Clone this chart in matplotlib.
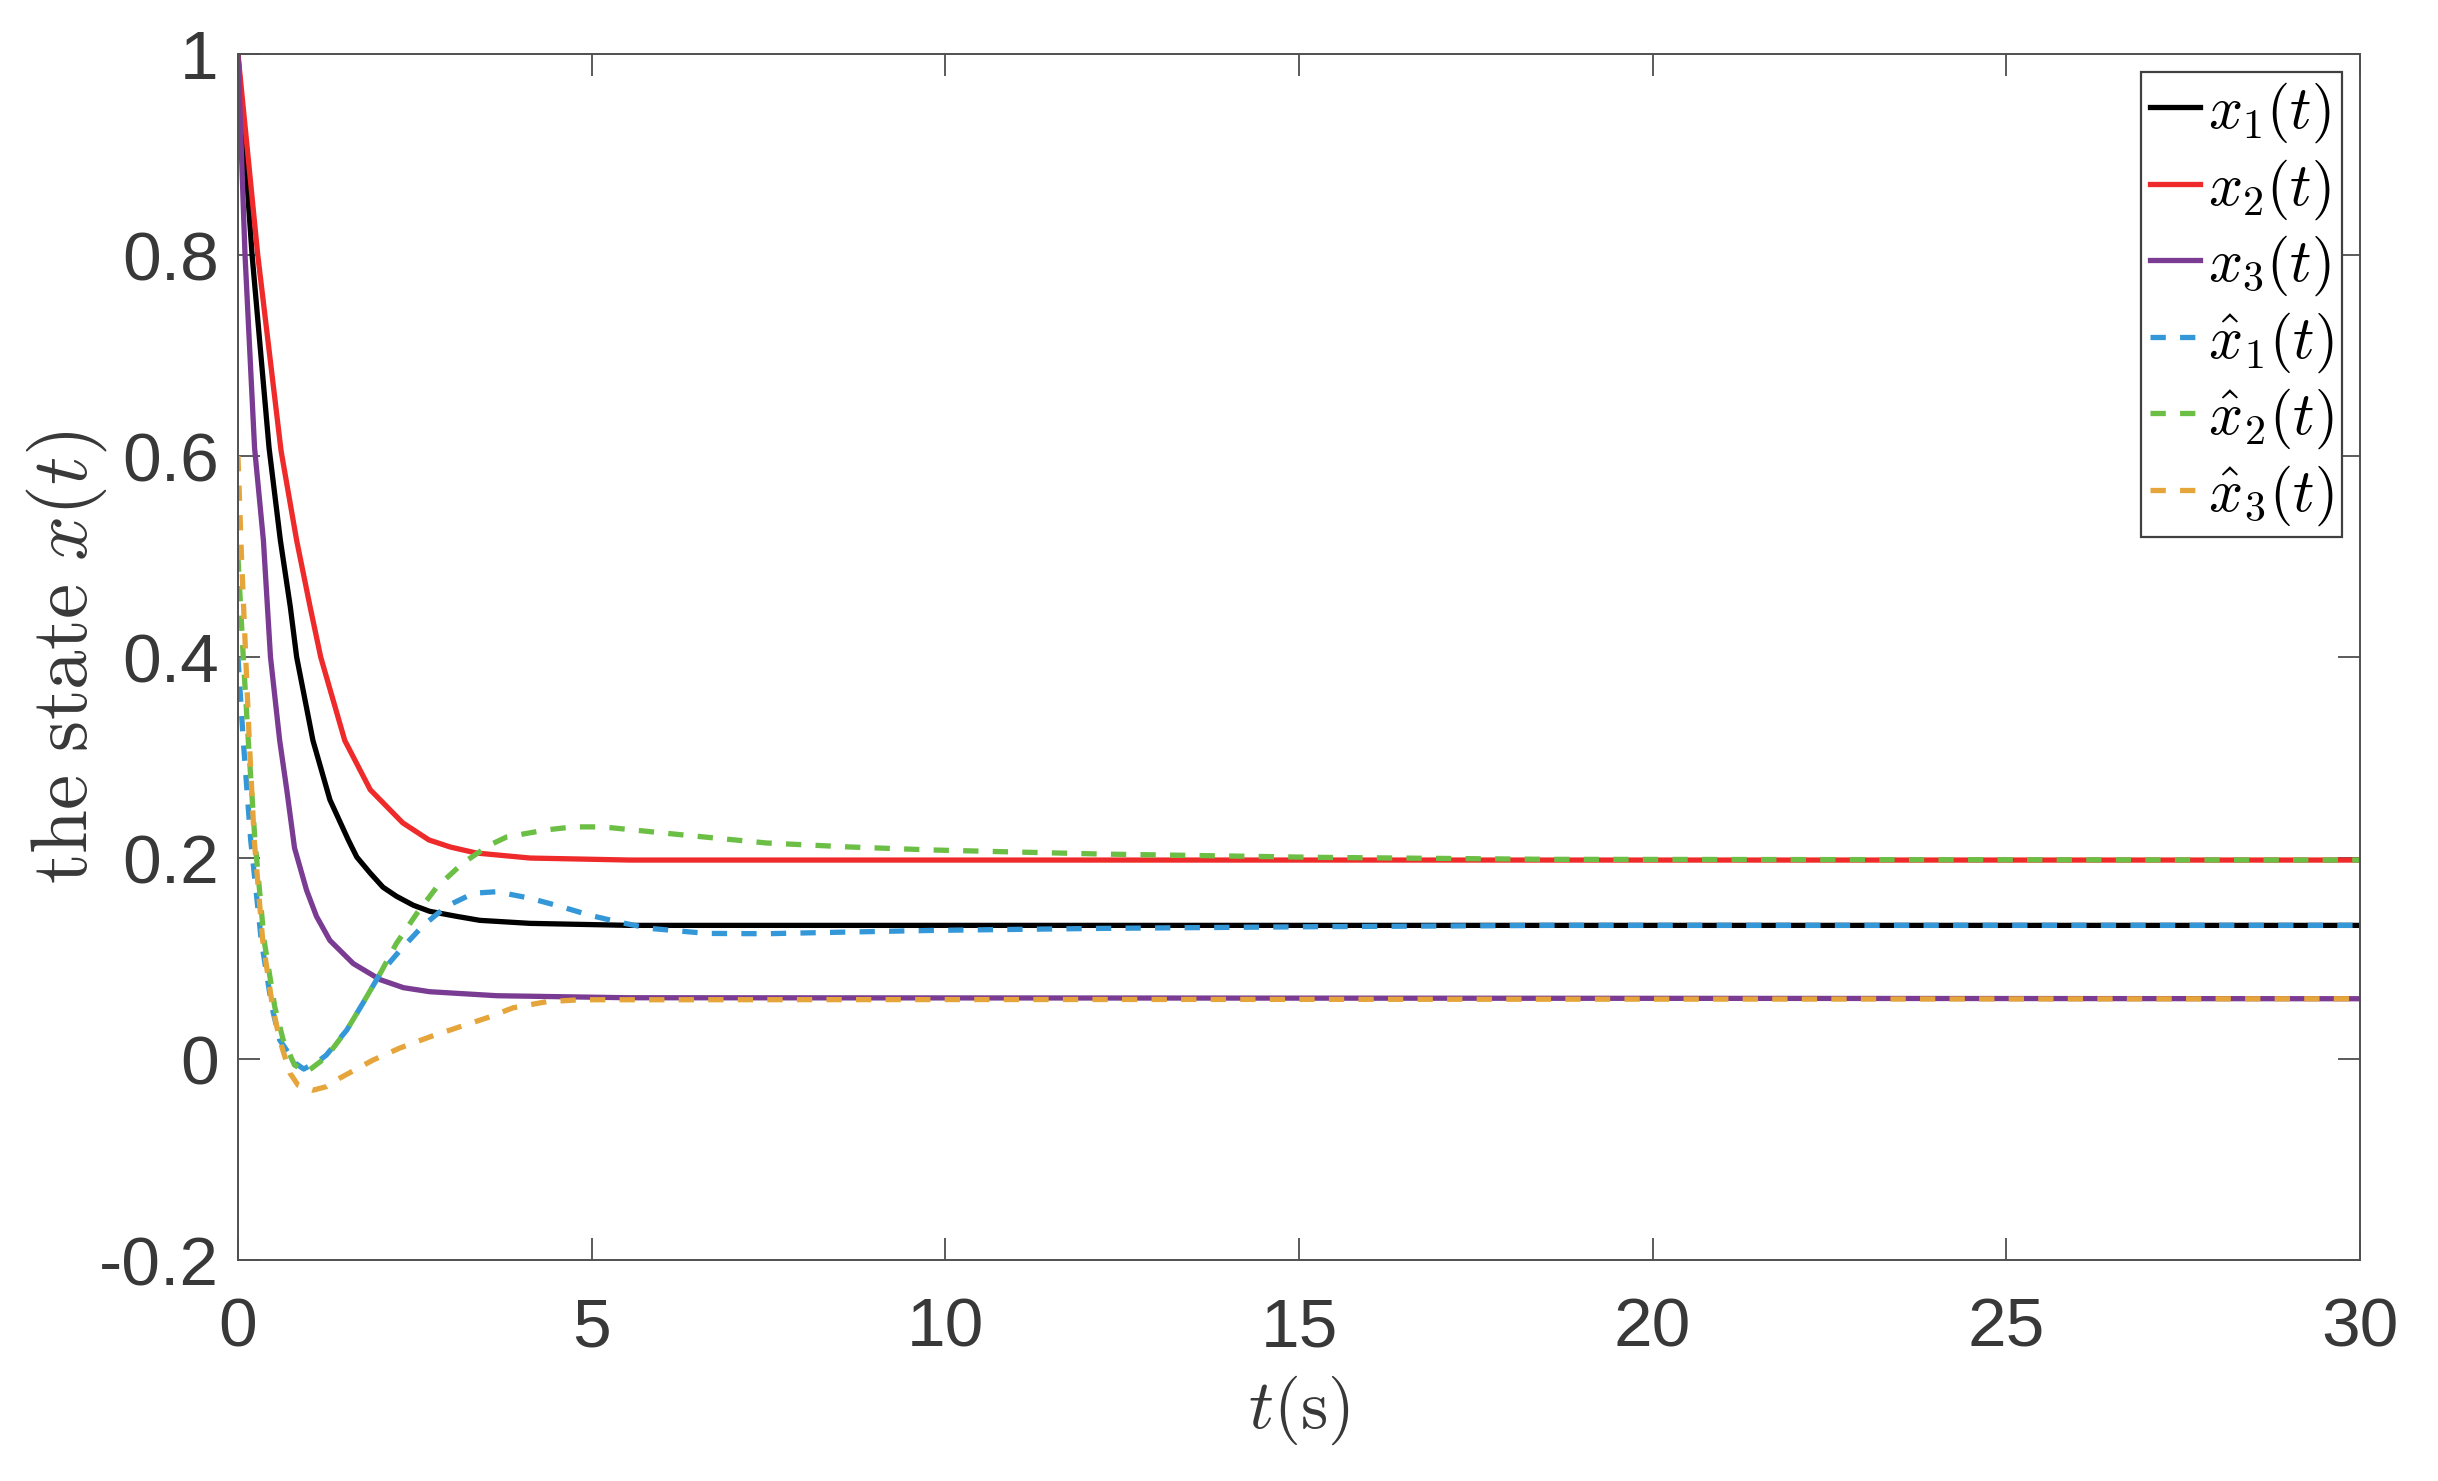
import numpy as np
import matplotlib
matplotlib.use("Agg")
import matplotlib.pyplot as plt

# values
t_x1 = [0, 0.2, 0.44, 0.6, 0.74, 0.83, 1.06, 1.3, 1.56, 1.68, 1.87, 2.05, 2.24, 2.48,
        2.71, 3.09, 3.42, 4.13, 5.54, 10, 30]
x1 = [1.0, 0.8, 0.608, 0.516, 0.45, 0.4, 0.317, 0.258, 0.218, 0.201, 0.185, 0.171, 0.162,
      0.153, 0.147, 0.142, 0.138, 0.135, 0.133, 0.133, 0.133]

t_x2 = [0, 0.28, 0.61, 0.83, 1.02, 1.17, 1.51, 1.87, 2.33, 2.7, 3.0, 3.37, 4.13, 5.54, 10, 30]
x2 = [1.0, 0.8, 0.605, 0.516, 0.45, 0.4, 0.317, 0.268, 0.235, 0.218, 0.211, 0.205, 0.2,
      0.198, 0.198, 0.198]

t_x3 = [0, 0.1, 0.235, 0.36, 0.46, 0.59, 0.69, 0.8, 0.97, 1.11, 1.3, 1.63, 2.01, 2.34,
        2.71, 3.66, 5.5, 30]
x3 = [1.0, 0.8, 0.608, 0.516, 0.4, 0.317, 0.268, 0.21, 0.168, 0.142, 0.118, 0.095, 0.079,
      0.071, 0.067, 0.063, 0.061, 0.060]

t_xh1 = [0, 0.075, 0.18, 0.33, 0.48, 0.59, 0.81, 0.93, 1.16, 1.25, 1.54, 1.77, 2.01, 2.29,
         2.62, 2.95, 3.33, 3.66, 4.13, 4.55, 4.98, 5.4, 5.82, 6.63, 7.47, 8.65, 9.83, 11.0,
         12.2, 15.25, 18.55, 30]
xh1 = [0.4, 0.317, 0.218, 0.118, 0.052, 0.019, -0.004, -0.01, -0.001, 0.004, 0.029, 0.056,
       0.085, 0.108, 0.133, 0.152, 0.165, 0.1665, 0.160, 0.152, 0.143, 0.136, 0.130, 0.125,
       0.1247, 0.1264, 0.128, 0.129, 0.130, 0.1317, 0.133, 0.133]

t_xh2 = [0, 0.075, 0.146, 0.24, 0.37, 0.52, 0.64, 0.8, 0.97, 1.25, 1.54, 1.77, 2.01, 2.24,
         2.53, 2.81, 3.18, 3.56, 3.8, 4.36, 4.74, 5.12, 5.3, 6.29, 7.47, 8.65, 9.83, 11.0,
         12.19, 15.25, 18.55, 30]
xh2 = [0.5, 0.4, 0.317, 0.218, 0.118, 0.052, 0.019, -0.006, -0.013, 0.002, 0.029, 0.056,
       0.085, 0.115, 0.145, 0.171, 0.195, 0.213, 0.221, 0.228, 0.231, 0.231, 0.23, 0.223,
       0.215, 0.211, 0.208, 0.206, 0.204, 0.2007, 0.1987, 0.198]

t_xh3 = [0, 0.05, 0.11, 0.16, 0.23, 0.35, 0.49, 0.59, 0.735, 0.85, 1.06, 1.25, 1.44, 1.91,
         2.29, 2.71, 3.09, 3.52, 3.89, 4.36, 4.84, 6, 30]
xh3 = [0.6, 0.5, 0.4, 0.317, 0.218, 0.118, 0.052, 0.019, -0.014, -0.026, -0.031, -0.0275,
       -0.019, -0.001, 0.011, 0.022, 0.031, 0.041, 0.051, 0.057, 0.059, 0.059, 0.060]

labels = [r"$x_1(t)$", r"$x_2(t)$", r"$x_3(t)$",
          r"$\hat{x}_1(t)$", r"$\hat{x}_2(t)$", r"$\hat{x}_3(t)$"]
colors = ["#000000", "#ee2a2a", "#7a3b92", "#3498d8", "#6cbf45", "#e5a53b"]

plt.rcParams["mathtext.fontset"] = "cm"
plt.rcParams["font.family"] = ["Liberation Sans", "DejaVu Sans"]

fig = plt.figure(figsize=(12.19, 7.405), dpi=200)
ax = fig.add_axes([0.0976, 0.1492, 0.8704, 0.8143])

lw = 1.9
dash = (2.9, 2.7)
ax.plot(t_x1, x1, color=colors[0], lw=lw, label=labels[0])
ax.plot(t_x2, x2, color=colors[1], lw=lw, label=labels[1])
ax.plot(t_x3, x3, color=colors[2], lw=lw, label=labels[2])
ax.plot(t_xh1, xh1, color=colors[3], lw=lw, dashes=dash, label=labels[3])
ax.plot(t_xh2, xh2, color=colors[4], lw=lw, dashes=dash, label=labels[4])
ax.plot(t_xh3, xh3, color=colors[5], lw=lw, dashes=dash, label=labels[5])

ax.set_xlim(0, 30)
ax.set_ylim(-0.2, 1)
ax.set_xticks([0, 5, 10, 15, 20, 25, 30])
ax.set_yticks([-0.2, 0, 0.2, 0.4, 0.6, 0.8, 1])
ax.set_yticklabels(["-0.2", "0", "0.2", "0.4", "0.6", "0.8", "1"])
ax.tick_params(direction="in", length=8, width=0.6, color="#404040",
               labelsize=25, labelcolor="#383838", top=True, right=True)
ax.tick_params(axis="x", pad=13)
ax.tick_params(axis="y", pad=7)
for s in ax.spines.values():
    s.set_color("#505050")
    s.set_linewidth(0.7)

ax.set_xlabel(r"$t(\mathrm{s})$", fontsize=25, color="#383838", labelpad=5)
ax.set_ylabel(r"$\mathrm{the\ state}\ x(t)$", fontsize=28.5, color="#383838")
ax.yaxis.set_label_coords(-0.061, 0.5)

leg = ax.legend(loc="upper right", fontsize=21.5, handlelength=0.85, handletextpad=0.12,
                labelspacing=0.2, borderpad=0.15, borderaxespad=0.3,
                fancybox=False, framealpha=1, edgecolor="#404040")
leg.get_frame().set_linewidth(0.8)

fig.savefig("out.png", dpi=200)
